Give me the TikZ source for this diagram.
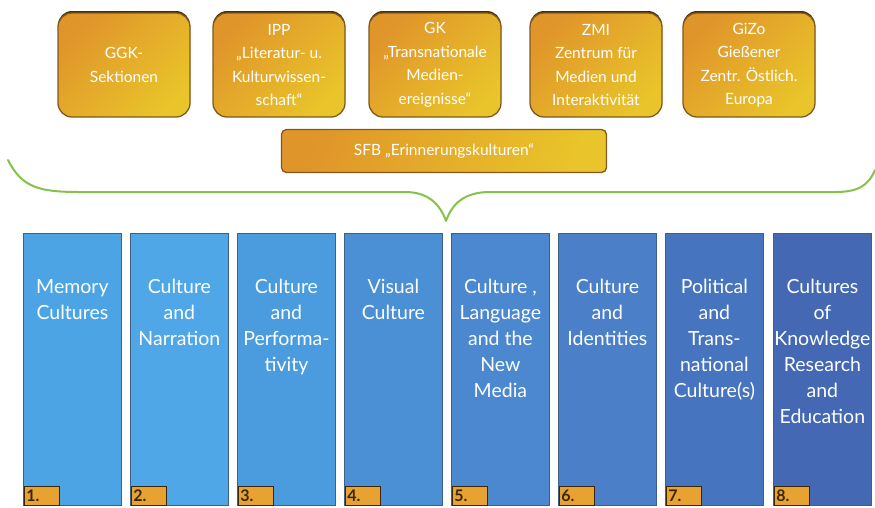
\documentclass[tikz,border=0pt]{standalone}
\usepackage{fontspec}
\setmainfont{Lato}
\usetikzlibrary{shadows}
\definecolor{orL}{HTML}{E0952A}
\definecolor{orR}{HTML}{E9C42A}
\definecolor{boxedge}{HTML}{7E5A1E}
\definecolor{shad}{HTML}{4A2A05}
\definecolor{brace}{HTML}{84C24A}
\definecolor{coledge}{HTML}{3E5F86}
\definecolor{tagfill}{HTML}{E8A232}
\definecolor{tagtext}{HTML}{3A2608}
\definecolor{cA}{HTML}{4DA4E4}
\definecolor{cB}{HTML}{4FA7E7}
\definecolor{cC}{HTML}{4A9CDF}
\definecolor{cD}{HTML}{4B8FD5}
\definecolor{cE}{HTML}{4C88CF}
\definecolor{cF}{HTML}{4B7FC7}
\definecolor{cG}{HTML}{4774BE}
\definecolor{cH}{HTML}{4468B3}
\begin{document}
\begin{tikzpicture}[x=1pt,y=-1pt,
  topbox/.style={draw=boxedge, line width=1.3pt, rounded corners=14pt,
    top color=orL, bottom color=orR, shading angle=45, minimum width=132pt, minimum height=104pt,
    text=white, align=center, font=\fontsize{15.5}{23.5}\selectfont, inner sep=0pt,
    drop shadow={shadow xshift=0pt, shadow yshift=2pt, fill=shad, opacity=1}},
  sfbbox/.style={draw=boxedge, line width=1.3pt, rounded corners=5pt,
    top color=orL, bottom color=orR, shading angle=70, minimum width=325pt, minimum height=43pt,
    text=white, font=\fontsize{15.5}{23}\selectfont, inner sep=0pt},
  colbox/.style={draw=coledge, line width=0.8pt, minimum width=98pt, minimum height=272pt,
    anchor=north west, inner sep=0pt},
  coltext/.style={text=white, align=center, font=\fontsize{19.5}{26}\selectfont,
    anchor=north, inner sep=0pt},
  tag/.style={draw=tagtext, line width=0.5pt, fill=tagfill, minimum width=35pt, minimum height=19pt,
    anchor=south west, inner sep=1pt, text=tagtext, font=\fontsize{16}{16}\selectfont\bfseries,
    align=left, text width=31pt},
  bracestyle/.style={draw=brace, line width=2pt, line cap=round, line join=round}
]
\useasboundingbox (0,0) rectangle (875,507);
% top boxes
\node[topbox] (ggk) at (124,65) {GGK-\\Sektionen};
\node[topbox] (ipp) at (279,65) {IPP\\„Literatur- u.\\Kulturwissen-\\schaft“};
\node[topbox] (gk) at (435,65) {GK\\„Transnationale\\Medien-\\ereignisse“};
\node[topbox] (zmi) at (596,65) {ZMI\\Zentrum für\\Medien und\\Interaktivität};
\node[topbox] (gizo) at (749,65) {GiZo\\Gießener\\Zentr. Östlich.\\Europa};
\node[sfbbox] (sfb) at (444,151) {SFB „Erinnerungskulturen“};
% brace
\draw[bracestyle] (8,160) .. controls (22,188) and (40,192) .. (80,192)
  -- (405,192) .. controls (428,192) and (440,204) .. (446,221)
  .. controls (452,204) and (464,192) .. (490,192)
  -- (835,192) .. controls (858,192) and (868,186) .. (875,170);
% columns
\node[colbox, fill=cA] (k1) at (23,233) {};
\node[colbox, fill=cB] (k2) at (130,233) {};
\node[colbox, fill=cC] (k3) at (237,233) {};
\node[colbox, fill=cD] (k4) at (344,233) {};
\node[colbox, fill=cE] (k5) at (451,233) {};
\node[colbox, fill=cF] (k6) at (558,233) {};
\node[colbox, fill=cG] (k7) at (665,233) {};
\node[colbox, fill=cH] (k8) at (773,233) {};
\node[coltext] (t1) at ([yshift=-46pt]k1.north) {Memory\\Cultures};
\node[coltext] (t2) at ([yshift=-46pt]k2.north) {Culture\\and\\Narration};
\node[coltext] (t3) at ([yshift=-46pt]k3.north) {Culture\\and\\Performa-\\tivity};
\node[coltext] (t4) at ([yshift=-46pt]k4.north) {Visual\\Culture};
\node[coltext] (t5) at ([yshift=-46pt]k5.north) {Culture ,\\Language\\and the\\New\\Media};
\node[coltext] (t6) at ([yshift=-46pt]k6.north) {Culture\\and\\Identities};
\node[coltext] (t7) at ([yshift=-46pt]k7.north) {Political\\and\\Trans-\\national\\Culture(s)};
\node[coltext] (t8) at ([yshift=-46pt]k8.north) {Cultures\\of\\Knowledge\\Research\\and\\Education};
% tags
\node[tag] (n1) at ([xshift=1pt]k1.south west) {1.};
\node[tag] (n2) at ([xshift=1pt]k2.south west) {2.};
\node[tag] (n3) at ([xshift=1pt]k3.south west) {3.};
\node[tag] (n4) at ([xshift=1pt]k4.south west) {4.};
\node[tag] (n5) at ([xshift=1pt]k5.south west) {5.};
\node[tag] (n6) at ([xshift=1pt]k6.south west) {6.};
\node[tag] (n7) at ([xshift=1pt]k7.south west) {7.};
\node[tag] (n8) at ([xshift=1pt]k8.south west) {8.};
\end{tikzpicture}
\end{document}
